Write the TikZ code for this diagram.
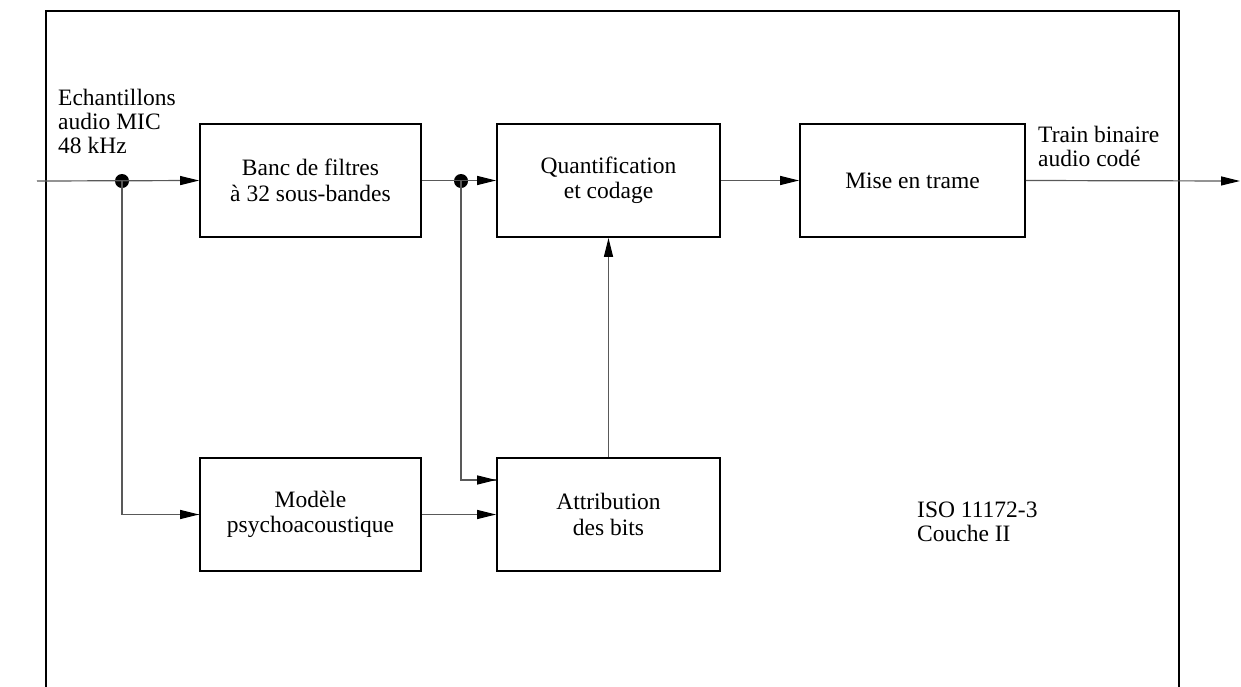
\documentclass[tikz,border=0pt]{standalone}
\usepackage{fontspec}
\setmainfont{Liberation Serif}
\usetikzlibrary{arrows.meta}
\begin{document}
\begin{tikzpicture}[x=1pt,y=-1pt,
  blk/.style={draw=black,line width=1.8pt,minimum width=221pt,minimum height=113pt,align=center,inner sep=0pt,font=\fontsize{23.5}{25.5}\selectfont},
  lbl/.style={align=left,inner sep=0pt,font=\fontsize{23.5}{24}\selectfont},
  conn/.style={draw=black!65,line width=1.2pt},
  arr/.style={conn,-{Triangle[length=19pt,width=9pt,color=black]}},
  dot/.style={circle,fill=black,inner sep=0pt,minimum size=14pt}]
\useasboundingbox (0,0) rectangle (1241,686);
\draw[line width=1.8pt] (46,690) -- (46,11) -- (1179,11) -- (1179,690);
\node[blk] (banc) at (310.5,180.5) {Banc de filtres\\à 32 sous-bandes};
\node[blk,minimum width=223pt] (quant) at (608.5,180.5) {Quantification\\et codage};
\node[blk,minimum width=225pt] (mise) at (912.5,180.5) {Mise en trame};
\node[blk] (modele) at (310.5,514.5) {Modèle\\psychoacoustique};
\node[blk,minimum width=223pt] (attr) at (608.5,514.5) {Attribution\\des bits};
\coordinate (in) at (37,181);
\coordinate (out) at (1240,181);
\node[dot] (d1) at (122,181) {};
\node[dot] (d2) at (461,181) {};
\node[lbl,anchor=north west] (lin) at (58,89) {Echantillons\\audio MIC\\48 kHz};
\node[lbl,anchor=north west] (lout) at (1038,126) {Train binaire\\audio codé};
\node[lbl,anchor=north west] (liso) at (917,502) {ISO 11172-3\\Couche II};
\draw[arr] (in) -- (banc.west);
\draw[conn] (d1.center) |- (modele.west);
\draw[arr] (d1.center |- modele.west) -- (modele.west);
\draw[arr] (banc.east) -- (quant.west);
\draw[conn] (d2.center) |- (attr.west |- 0,480);
\draw[arr] (d2.center |- 0,480) -- (attr.west |- 0,480);
\draw[arr] (modele.east) -- (attr.west |- modele.east);
\draw[arr] (attr.north) -- (quant.south);
\draw[arr] (quant.east) -- (mise.west);
\draw[arr] (mise.east) -- (out);
\end{tikzpicture}
\end{document}
